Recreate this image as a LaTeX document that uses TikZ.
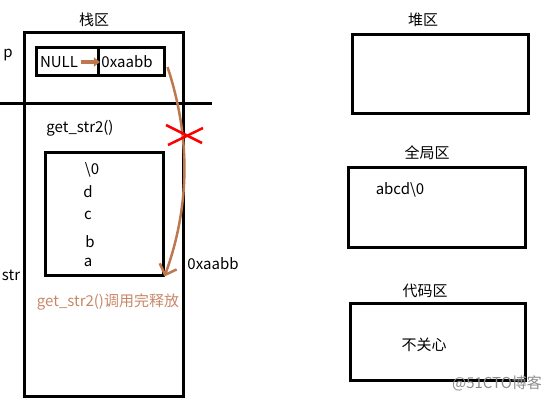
\documentclass[tikz,border=0pt]{standalone}
\usepackage{fontspec}
\setmainfont{Noto Sans CJK SC}
\usetikzlibrary{arrows.meta}
\definecolor{brownline}{RGB}{190,120,80}
\definecolor{browntext}{RGB}{200,135,105}
\begin{document}
\begin{tikzpicture}[x=1pt, y=-1pt, line width=3pt,
    font=\fontsize{15}{17}\selectfont,
    box/.style = {draw, rectangle, inner sep=0pt},
    txt/.style = {inner sep=0pt}]
    \useasboundingbox (0,0) rectangle (553,402);
    % Disegna le zone di memoria
    \node[box, minimum width=159pt, minimum height=364pt] (stack) at (103.5,214) {};
    \node[box, minimum width=62pt, minimum height=28pt] (nullcell) at (67,61) {};
    \node[box, minimum width=66pt, minimum height=28pt] (addrcell) at (131,61) {};
    \node[box, minimum width=118pt, minimum height=123pt] (inner) at (104,213.5) {};
    \node[box, minimum width=176pt, minimum height=79pt] (heap) at (440,73.5) {};
    \node[box, minimum width=177pt, minimum height=80pt] (global) at (436.5,207) {};
    \node[box, minimum width=175pt, minimum height=77pt] (code) at (437.5,341.5) {};
    \draw (0,103) -- (212,103);

    \node[txt] (stacklbl) at (94,20) {栈区};
    \node[txt] (heaplbl) at (423,20) {堆区};
    \node[txt] (globallbl) at (427,153) {全局区};
    \node[txt] (codelbl) at (425,291) {代码区};
    \node[txt] (p) at (8,55) {p};
    \node[txt] (str) at (11,275) {str};
    \node[txt] (null) at (59,62) {NULL};
    \node[txt] (addr) at (127,62) {0xaabb};
    \node[txt] (func) at (80,128) {get\_str2()};
    \node[txt] (z) at (92,170) {\textbackslash 0};
    \node[txt] (d) at (88,192) {d};
    \node[txt] (c) at (88,215) {c};
    \node[txt] (b) at (90,242) {b};
    \node[txt] (a) at (88,262) {a};
    \node[txt] (addra) at (213,264) {0xaabb};
    \node[txt, text=browntext] (freed) at (108,302) {get\_str2()调用完释放};
    \node[txt] (abcd) at (400,190) {abcd\textbackslash 0};
    \node[txt] (dontcare) at (424,345) {不关心};
    \node[txt, text=black!45] (mark) at (497,383) {@51CTO博客};

    \draw[brownline, line width=3.5pt, -{Triangle[length=6pt,width=9pt]}] (null.east) [shorten <=2pt] to (addr.west);
    \draw[brownline, line width=2.5pt, -{Straight Barb[length=9pt,width=18pt]}]
        ([yshift=-6pt, xshift=2pt]addrcell.east) .. controls (195,150) and (185,220) .. (inner.south east);

    \draw[red, line width=2.5pt] (166,125) -- (202,143);
    \draw[red, line width=2.5pt] (168,145) -- (203,128);
\end{tikzpicture}
\end{document}
